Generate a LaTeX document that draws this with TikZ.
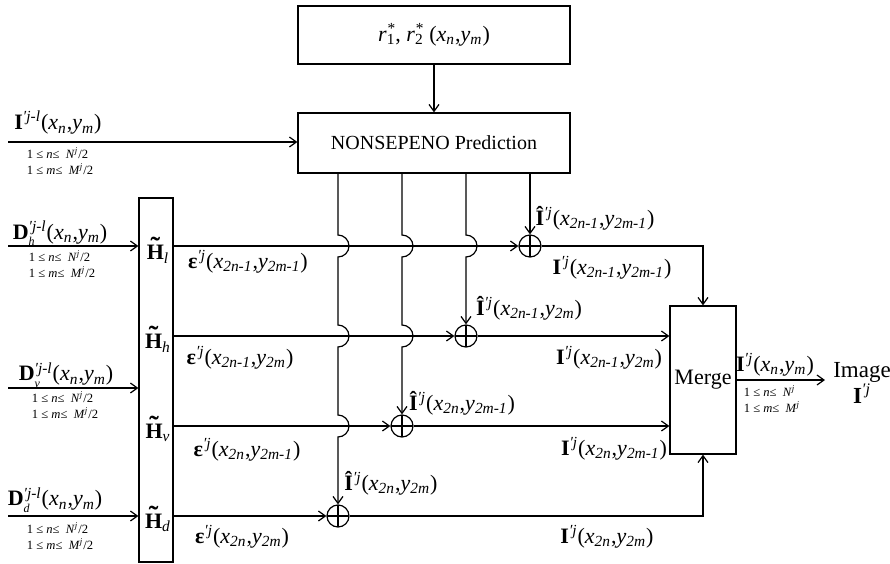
\documentclass[tikz,border=0pt]{standalone}
\usepackage{fontspec}
\setmainfont{Liberation Serif}
\usetikzlibrary{arrows.meta}

\newcommand{\sbx}[1]{\textsubscript{\textit{#1}}}
\newcommand{\spx}[1]{\textsuperscript{\textit{#1}}}
\newcommand{\xy}[2]{(\textit{x}\sbx{#1},\textit{y}\sbx{#2})}
\newcommand{\bI}{\textbf{I}}
\newcommand{\hI}{\textbf{\^I}}
\newcommand{\bD}[1]{\textbf{D}\rlap{\raisebox{-0.3em}{\fontsize{6}{6}\selectfont\textit{#1}}}\spx{′j-l}}
\newcommand{\tH}[1]{\textbf{\makebox[0pt][l]{\makebox[0.78em]{\raisebox{0.2em}{\scalebox{1.3}[1.2]{˜}}}}H}\sbx{#1}}
\newcommand{\beps}{\textbf{ε}}
\newcommand{\cond}[1]{1 ≤ \textit{n}≤~ \textit{N}\spx{j}#1\\1 ≤ \textit{m}≤~ \textit{M}\spx{j}#1}
\newcommand{\hopover}[1]{-- ([yshift=5.5pt]#1) arc[start angle=90,end angle=-90,radius=5.5pt]}

\begin{document}
\begin{tikzpicture}[x=0.5pt,y=-0.5pt,line width=0.6pt,
  >={Straight Barb[length=3.5pt,width=5pt]},
  every node/.style={font=\fontsize{11}{13}\selectfont},
  blk/.style={draw,inner sep=0pt},
  sumnode/.style={draw,circle,minimum size=11pt,inner sep=0pt,
    path picture={\draw (path picture bounding box.north) -- (path picture bounding box.south)
      (path picture bounding box.west) -- (path picture bounding box.east);}},
  cnd/.style={font=\fontsize{6.3}{8.3}\selectfont,align=left}]

\useasboundingbox (0,0) rectangle (890,563);

% blocks
\node[blk,minimum width=136pt,minimum height=29pt] (rb) at (434,35)
  {\textit{r}\rlap{\spx{*}}\textsubscript{1}, \textit{r}\rlap{\spx{*}}\textsubscript{2} \xy{n}{m}};
\node[blk,minimum width=136pt,minimum height=30pt,font=\fontsize{10}{12}\selectfont] (pr) at (434,143)
  {NONSEPENO Prediction};
\node[blk,minimum width=17pt,minimum height=182pt] (hb) at (156,380) {};
\node[blk,minimum width=33pt,minimum height=74pt] (mg) at (703,380) {Merge};
\node[sumnode] (s1) at (530,246) {};
\node[sumnode] (s2) at (466,336) {};
\node[sumnode] (s3) at (402,426) {};
\node[sumnode] (s4) at (338,516) {};

% filters
\node (hl) at (158,250) {\tH{l}};
\node (hh) at (158,339) {\tH{h}};
\node (hv) at (158,429) {\tH{v}};
\node (hd) at (158,519) {\tH{d}};

% inputs
\coordinate (ii) at (8,142);
\coordinate (idh) at (8,246);
\coordinate (idv) at (8,388);
\coordinate (idd) at (8,516);
\coordinate (oend) at (825,380);
\node (lii) at (58,123) {\bI\spx{′j-l}\xy{n}{m}};
\node[cnd] (cii) at (60,161) {\cond{/2}};
\node (ldh) at (60,233) {\bD{h}\xy{n}{m}};
\node[cnd] (cdh) at (62,264) {\cond{/2}};
\node (ldv) at (66,375) {\bD{v}\xy{n}{m}};
\node[cnd] (cdv) at (65,405) {\cond{/2}};
\node (ldd) at (55,500) {\bD{d}\xy{n}{m}};
\node[cnd] (cdd) at (60,536) {\cond{/2}};

% crossing points
\coordinate (c21) at (s2 |- s1);
\coordinate (c31) at (s3 |- s1);
\coordinate (c32) at (s3 |- s2);
\coordinate (c41) at (s4 |- s1);
\coordinate (c42) at (s4 |- s2);
\coordinate (c43) at (s4 |- s3);

% connectors
\draw[->] (rb) -- (pr);
\draw[->] (ii) -- (ii -| pr.west);
\draw[->] (idh) -- (idh -| hb.west);
\draw[->] (idv) -- (idv -| hb.west);
\draw[->] (idd) -- (idd -| hb.west);
\draw[->] (hb.east |- s1) -- (s1);
\draw[->] (hb.east |- s2) -- (s2);
\draw[->] (hb.east |- s3) -- (s3);
\draw[->] (hb.east |- s4) -- (s4);
\draw[->] (s1 |- pr.south) -- (s1);
\draw[->] (s2 |- pr.south) \hopover{c21} -- (s2);
\draw[->] (s3 |- pr.south) \hopover{c31} \hopover{c32} -- (s3);
\draw[->] (s4 |- pr.south) \hopover{c41} \hopover{c42} \hopover{c43} -- (s4);
\draw[->] (s1) -| (mg.north);
\draw[->] (s2) -- (s2 -| mg.west);
\draw[->] (s3) -- (s3 -| mg.west);
\draw[->] (s4) -| (mg.south);
\draw[->] (mg) -- (oend);

% signal labels
\node (le1) at (248,262) {\beps\spx{′j}\xy{2n-1}{2m-1}};
\node (le2) at (240,358) {\beps\spx{′j}\xy{2n-1}{2m}};
\node (le3) at (247,450) {\beps\spx{′j}\xy{2n}{2m-1}};
\node (le4) at (242,537) {\beps\spx{′j}\xy{2n}{2m}};
\node (lp1) at (595,218) {\hI\spx{′j}\xy{2n-1}{2m-1}};
\node (lp2) at (529,308) {\hI\spx{′j}\xy{2n-1}{2m}};
\node (lp3) at (462,403) {\hI\spx{′j}\xy{2n}{2m-1}};
\node (lp4) at (391,483) {\hI\spx{′j}\xy{2n}{2m}};
\node (lo1) at (612,268) {\bI\spx{′j}\xy{2n-1}{2m-1}};
\node (lo2) at (609,358) {\bI\spx{′j}\xy{2n-1}{2m}};
\node (lo3) at (614,449) {\bI\spx{′j}\xy{2n}{2m-1}};
\node (lo4) at (607,537) {\bI\spx{′j}\xy{2n}{2m}};
\node (lout) at (775,365) {\bI\spx{′j}\xy{n}{m}};
\node[cnd] (cout) at (772,399) {\cond{}};
\node[align=center,font=\fontsize{11.5}{11}\selectfont] (img) at (862,383) {Image\\\bI\spx{′j}};
\end{tikzpicture}
\end{document}
